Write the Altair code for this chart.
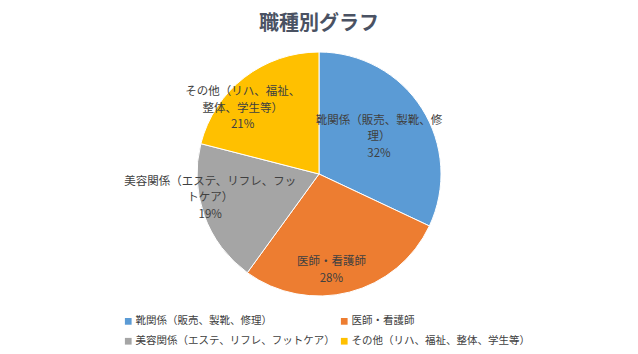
import altair as alt
import pandas as pd

chart_title = "職種別グラフ"
categories = [
    "靴関係（販売、製靴、修理）",
    "医師・看護師",
    "美容関係（エステ、リフレ、フットケア）",
    "その他（リハ、福祉、整体、学生等）",
]
shares = [32, 28, 19, 21]
slice_names = [
    "靴関係（販売、製靴、修\n理）",
    "医師・看護師",
    "美容関係（エステ、リフレ、フッ\nトケア）",
    "その他（リハ、福祉、\n整体、学生等）",
]
colors = ["#5B9BD5", "#ED7D31", "#A5A5A5", "#FFC000"]

FONT = "Noto Sans CJK JP"
TEXT_COLOR = "#404040"

df = pd.DataFrame({
    "cat": categories,
    "share": shares,
    "order": list(range(len(categories))),
    "label": [f"{n}\n{s}%" for n, s in zip(slice_names, shares)],
})

base = alt.Chart(df).transform_window(
    cum="sum(share)", sort=[alt.SortField("order")], frame=[None, 0]
).transform_calculate(mid="datum.cum - datum.share / 2")

arcs = base.mark_arc(outerRadius=122, stroke="white", strokeWidth=1).encode(
    theta=alt.Theta("share:Q", stack=True),
    order=alt.Order("order:Q"),
    color=alt.Color(
        "cat:N",
        scale=alt.Scale(domain=categories, range=colors),
        sort=categories,
        legend=alt.Legend(
            title=None,
            orient="none",
            legendX=122,
            legendY=278,
            direction="horizontal",
            columns=2,
            symbolType="square",
            symbolSize=45,
            symbolStrokeWidth=0,
            labelFont=FONT,
            labelFontSize=10.5,
            labelColor=TEXT_COLOR,
            labelLimit=0,
            rowPadding=9,
            columnPadding=4,
            labelOffset=2,
        ),
    ),
)

# label placement styles per slice: (radius, dx, dy); anchor is the first text line
placement = [(71, 0, -15), (90, -10, 1), (106, -9, -28), (105, -12, 1)]
text_layers = []
for i, (r, dx, dy) in enumerate(placement):
    text_layers.append(
        base.transform_filter(alt.datum.order == i)
        .mark_text(
            radius=r, dx=dx, dy=dy, lineBreak="\n", font=FONT, fontSize=11.5,
            lineHeight=16.5, color=TEXT_COLOR, align="center", baseline="middle",
        )
        .encode(theta=alt.Theta("mid:Q", stack=False), text="label:N")
    )

chart = alt.layer(arcs, *text_layers).properties(
    width=636,
    height=272,
    padding={"left": 1, "top": 14, "right": 1, "bottom": 0},
    title=alt.TitleParams(
        chart_title, font=FONT, fontSize=20, fontWeight="bold",
        color="#4A5263", anchor="middle", offset=4,
    ),
).configure_view(stroke=None)

chart.save("out.html", embed_options={"renderer": "svg", "actions": False})
